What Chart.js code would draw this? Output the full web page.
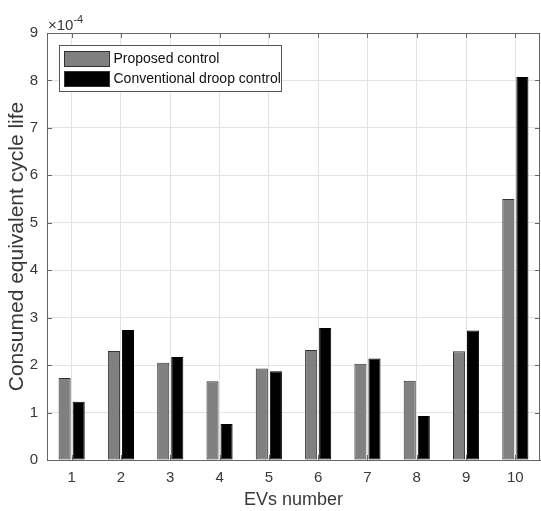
<!DOCTYPE html>
<html lang="en">
  <head>
    <meta charset="UTF-8" />
    <title>Consumed equivalent cycle life</title>
    <script src="https://cdn.jsdelivr.net/npm/chart.js"></script>
    <style>
      body {
        margin: 0;
        padding: 0;
        background: #fff;
      }
      .chart-container {
        position: relative;
        width: 541px;
        height: 511px;
      }
    </style>
  </head>
  <body>
    <div class="chart-container">
      <canvas id="cycleChart"></canvas>
    </div>

    <script>
      // EV index on the x axis
      const evNumbers = ["1", "2", "3", "4", "5", "6", "7", "8", "9", "10"];
      // values are in units of 10^exponent
      const exponent = -4;
      const proposedControl = [1.73, 2.3, 2.05, 1.66, 1.93, 2.32, 2.03, 1.67, 2.29, 5.5];
      const droopControl = [1.23, 2.74, 2.17, 0.76, 1.87, 2.78, 2.14, 0.93, 2.73, 8.07];
      const yTicks = [0, 1, 2, 3, 4, 5, 6, 7, 8, 9];

      const textColor = "#383838";
      const frameColor = "#666";
      const fontFamily = "'Liberation Sans', Arial, sans-serif";

      // top/right frame, inward ticks, legend box and exponent label
      const matlabAxes = {
        id: "matlabAxes",
        afterDatasetsDraw(chart) {
          const { ctx, chartArea: a, scales } = chart;
          const tick = 5;
          ctx.save();
          ctx.strokeStyle = frameColor;
          ctx.lineWidth = 1;
          ctx.beginPath();
          ctx.moveTo(a.left, a.top + 0.5);
          ctx.lineTo(a.right, a.top + 0.5);
          ctx.moveTo(a.right - 0.5, a.top);
          ctx.lineTo(a.right - 0.5, a.bottom);
          evNumbers.forEach((_, i) => {
            const x = Math.round(scales.x.getPixelForTick(i)) + 0.5;
            ctx.moveTo(x, a.bottom);
            ctx.lineTo(x, a.bottom - tick);
            ctx.moveTo(x, a.top);
            ctx.lineTo(x, a.top + tick);
          });
          yTicks.forEach((v) => {
            const y = Math.round(scales.y.getPixelForValue(v)) + 0.5;
            ctx.moveTo(a.left, y);
            ctx.lineTo(a.left + tick, y);
            ctx.moveTo(a.right, y);
            ctx.lineTo(a.right - tick, y);
          });
          ctx.stroke();

          // legend inside the plot
          const bx = a.left + 12.5;
          const by = a.top + 12.5;
          ctx.fillStyle = "#fff";
          ctx.fillRect(bx, by, 222, 46);
          ctx.strokeStyle = "#555";
          ctx.strokeRect(bx, by, 222, 46);
          ctx.font = "14px " + fontFamily;
          ctx.textBaseline = "middle";
          chart.data.datasets.forEach((ds, i) => {
            const ry = by + 6 + i * 20;
            ctx.fillStyle = ds.backgroundColor;
            ctx.fillRect(bx + 5, ry, 45, 15);
            ctx.strokeStyle = "#333";
            ctx.strokeRect(bx + 5, ry, 45, 15);
            ctx.fillStyle = "#111";
            ctx.fillText(ds.label, bx + 54, ry + 8);
          });

          // exponent label above the y axis
          ctx.fillStyle = textColor;
          ctx.textBaseline = "alphabetic";
          ctx.font = "15px " + fontFamily;
          ctx.fillText("\u00d710", a.left + 1, a.top - 3);
          const w = ctx.measureText("\u00d710").width;
          ctx.font = "11px " + fontFamily;
          ctx.fillText("-" + Math.abs(exponent), a.left + 1 + w, a.top - 10);
          ctx.restore();
        },
      };

      const ctx = document.getElementById("cycleChart").getContext("2d");
      new Chart(ctx, {
        type: "bar",
        data: {
          labels: evNumbers,
          datasets: [
            {
              label: "Proposed control",
              data: proposedControl,
              backgroundColor: "#808080",
              borderColor: "#333",
              borderWidth: 1,
              borderSkipped: false,
            },
            {
              label: "Conventional droop control",
              data: droopControl,
              backgroundColor: "#000",
              borderColor: "#000",
              borderWidth: 1,
              borderSkipped: false,
            },
          ],
        },
        options: {
          responsive: true,
          maintainAspectRatio: false,
          animation: false,
          categoryPercentage: 0.57,
          barPercentage: 0.86,
          layout: {
            padding: { top: 33, right: 1, left: 0, bottom: 0 },
          },
          scales: {
            x: {
              afterFit: (scale) => {
                scale.height = 51;
              },
              grid: {
                offset: false,
                color: "#e3e3e3",
                drawTicks: false,
              },
              border: { color: frameColor },
              ticks: {
                color: textColor,
                padding: 9,
                font: { family: fontFamily, size: 15 },
              },
              title: {
                display: true,
                text: "EVs number",
                color: textColor,
                padding: { top: 0, bottom: 0 },
                font: { family: fontFamily, size: 18 },
              },
            },
            y: {
              min: 0,
              max: 9,
              afterFit: (scale) => {
                scale.width = 47;
              },
              afterBuildTicks: (scale) => {
                scale.ticks = yTicks.map((v) => ({ value: v }));
              },
              grid: {
                color: "#e3e3e3",
                drawTicks: false,
              },
              border: { color: frameColor },
              ticks: {
                color: textColor,
                padding: 9,
                font: { family: fontFamily, size: 15 },
              },
              title: {
                display: true,
                text: "Consumed equivalent cycle life",
                color: textColor,
                padding: { top: 5, bottom: 0 },
                font: { family: fontFamily, size: 21 },
              },
            },
          },
          plugins: {
            legend: { display: false },
            tooltip: { enabled: false },
          },
        },
        plugins: [matlabAxes],
      });
    </script>
  </body>
</html>
